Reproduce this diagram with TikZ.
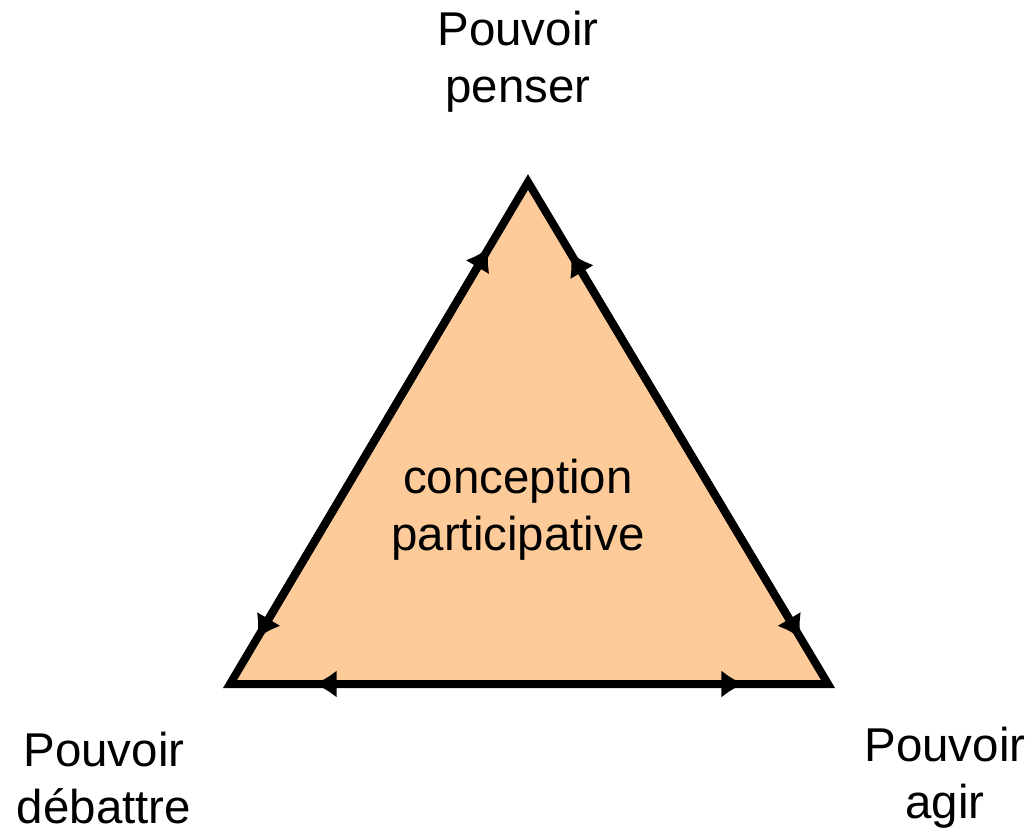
\documentclass[tikz,border=0pt]{standalone}
\usepackage{fontspec}
\setmainfont{Liberation Sans}
\usetikzlibrary{calc, arrows.meta, positioning}
\definecolor{peach}{RGB}{252,203,153}

\begin{document}
\begin{tikzpicture}[
			labelStyle/.style={font=\fontsize{27}{32.5}\selectfont, align=center, inner sep=0pt},
			sideStyle/.style={line width=1.6mm, black, line join=miter},
			arrowStyle/.style={line width=1.6mm, -{Latex[length=4.6mm, width=5.6mm]}},]
			
			\useasboundingbox (0,0) rectangle (20.68,16.68);
			
			\coordinate (top) at (10.56,13.04);
			\coordinate (left) at (4.6,3.0);
			\coordinate (right) at (16.56,3.0);
			
			\draw[sideStyle, fill=peach] (top) -- (left) -- (right) -- cycle;
			
			%% arrows along the sides
			\draw[arrowStyle] ($(left)!0.5!(top)$) -- ($(left)!0.87!(top)$);
			\draw[arrowStyle] ($(left)!0.5!(top)$) -- ($(left)!0.09!(top)$);
			\draw[arrowStyle] ($(right)!0.5!(top)$) -- ($(right)!0.86!(top)$);
			\draw[arrowStyle] ($(right)!0.5!(top)$) -- ($(right)!0.09!(top)$);
			\draw[arrowStyle] ($(left)!0.5!(right)$) -- ($(left)!0.14!(right)$);
			\draw[arrowStyle] ($(left)!0.5!(right)$) -- ($(left)!0.86!(right)$);
			
			\node[labelStyle] (penser) at (10.36,15.45) {Pouvoir\\penser};
			\node[labelStyle] (debattre) at (2.08,1.12) {Pouvoir\\débattre};
			\node[labelStyle] (agir) at (18.9,1.12) {Pouvoir\\agir};
			\node[labelStyle] (centre) at (10.36,6.48) {conception\\participative};
		\end{tikzpicture}
\end{document}
